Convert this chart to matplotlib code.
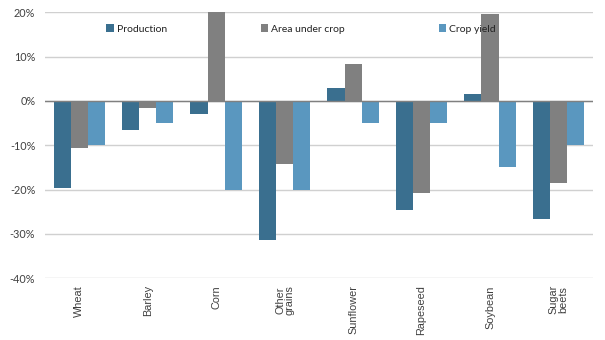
import matplotlib
matplotlib.use("Agg")
import matplotlib.pyplot as plt
import numpy as np
from matplotlib.ticker import FuncFormatter

categories = ["Wheat", "Barley", "Corn", "Other\ngrains", "Sunflower", "Rapeseed", "Soybean", "Sugar\nbeets"]
production = [-19.7, -6.6, -3.0, -31.4, 2.9, -24.6, 1.5, -26.7]
area = [-10.6, -1.6, 20.5, -14.3, 8.3, -20.8, 19.6, -18.5]
yield_ = [-10.0, -5.0, -20.0, -20.0, -5.0, -5.0, -15.0, -10.0]
series_names = ["Production", "Area under crop", "Crop yield"]
colors = ["#3A6F8F", "#808080", "#5A97BF"]

plt.rcParams['font.family'] = ['Lato', 'DejaVu Sans']

fig = plt.figure(figsize=(6.05, 3.40), dpi=100)
ax = fig.add_axes([0.0744, 0.1815, 0.9053, 0.7823])

x = np.arange(len(categories))
w = 0.25
for i, (vals, name, c) in enumerate(zip([production, area, yield_], series_names, colors)):
    ax.bar(x + (i - 1) * w, vals, width=w, color=c, label=name, zorder=3)

ax.set_ylim(-40, 20)
ax.set_xlim(-0.5, len(categories) - 0.5)
ax.set_yticks(np.arange(-40, 21, 10))
ax.yaxis.set_major_formatter(FuncFormatter(lambda v, p: f"{int(v)}%"))
ax.grid(axis='y', color='#d0d0d0', linewidth=1, zorder=0)
ax.axhline(0, color='#808080', linewidth=1, zorder=4)
for s in ax.spines.values():
    s.set_visible(False)
ax.tick_params(axis='both', length=0, labelsize=7.8, colors='#404040')
ax.tick_params(axis='y', pad=7)
ax.set_xticks(x)
ax.set_xticklabels(categories, rotation=90, va='top', ha='center', fontsize=7.8,
                   family=['Liberation Sans', 'DejaVu Sans'], linespacing=0.9)
ax.tick_params(axis='x', pad=5)

leg = ax.legend(loc='center left', bbox_to_anchor=(0.112, 0.937), ncol=3, frameon=False,
                fontsize=7.5, handlelength=0.7, handleheight=0.7, handletextpad=0.3,
                columnspacing=9.0, borderaxespad=0, borderpad=0)
for t in leg.get_texts():
    t.set_color('#222222')

fig.savefig("out.png", dpi=100)
